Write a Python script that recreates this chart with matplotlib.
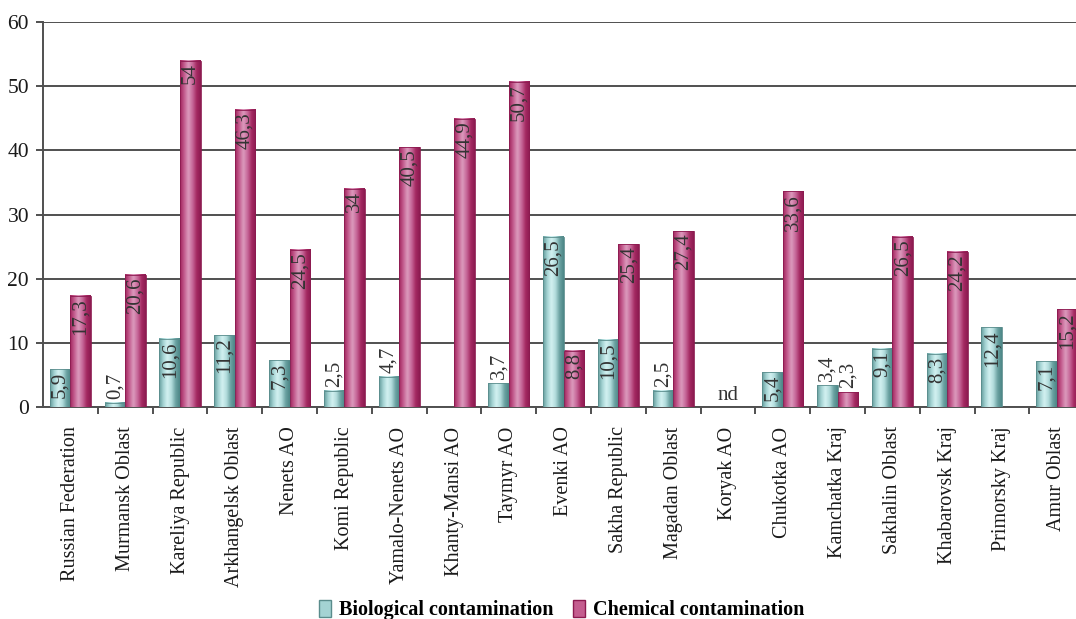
import numpy as np
import matplotlib
matplotlib.use("Agg")
import matplotlib.pyplot as plt
from matplotlib.colors import LinearSegmentedColormap
from matplotlib.patches import Patch

plt.rcParams['font.family'] = ['Liberation Serif', 'DejaVu Serif']

regions = ["Russian Federation", "Murmansk Oblast", "Kareliya Republic", "Arkhangelsk Oblast",
           "Nenets AO", "Komi Republic", "Yamalo-Nenets AO", "Khanty-Mansi AO", "Taymyr AO",
           "Evenki AO", "Sakha Republic", "Magadan Oblast", "Koryak AO", "Chukotka AO",
           "Kamchatka Kraj", "Sakhalin Oblast", "Khabarovsk Kraj", "Primorsky Kraj", "Amur Oblast"]
biological = [5.9, 0.7, 10.6, 11.2, 7.3, 2.5, 4.7, None, 3.7, 26.5, 10.5, 2.5, None, 5.4,
              3.4, 9.1, 8.3, 12.4, 7.1]
chemical = [17.3, 20.6, 54, 46.3, 24.5, 34, 40.5, 44.9, 50.7, 8.8, 25.4, 27.4, None, 33.6,
            2.3, 26.5, 24.2, None, 15.2]
no_data = ["Koryak AO"]

teal_cmap = LinearSegmentedColormap.from_list(
    "teal", ["#649c9c", "#a4d3d3", "#d3f1f1", "#b2dcdc", "#6ba2a2", "#4c8686"])
pink_cmap = LinearSegmentedColormap.from_list(
    "pink", ["#a0245c", "#c45d8f", "#dc9bbd", "#c7699a", "#a52a62", "#8c1a50"])
grad = np.linspace(0, 1, 64).reshape(1, -1)

fig = plt.figure(figsize=(10.76, 6.19), dpi=100)
ax = fig.add_axes([43 / 1076, 1 - 407 / 619, 1 - 43 / 1076, (407 - 22) / 619])

width = 0.375
x = np.arange(len(regions))


def draw_bars(values, offset, cmap, edge):
    for i, v in enumerate(values):
        if v is None:
            continue
        x0 = x[i] + offset
        ax.imshow(grad, extent=(x0, x0 + width, 0, v), aspect='auto', cmap=cmap,
                  interpolation='bicubic', zorder=3)
        ax.bar(x0, v, width, align='edge', facecolor='none', edgecolor=edge,
               linewidth=0.6, zorder=4)
        label = f"{v:g}".replace(".", ",")
        if v > 5:
            ax.text(x0 + width / 2, v - 0.4, label, rotation=90, ha='center', va='top',
                    fontsize=15, color='#333333', zorder=5)
        else:
            ax.text(x0 + width / 2, v + 0.6, label, rotation=90, ha='center', va='bottom',
                    fontsize=15, color='#333333', zorder=5)


draw_bars(biological, -width, teal_cmap, '#5a8c8c')
draw_bars(chemical, 0, pink_cmap, '#8c1a50')

for name in no_data:
    ax.text(regions.index(name), 1.8, "nd", ha='center', va='center', fontsize=15,
            color='#333333')

ax.set_xlim(-0.5, -0.5 + (1076 - 43) / 54.8)
ax.set_ylim(0, 60)
ax.set_yticks(range(0, 61, 10))
ax.grid(axis='y', color='#505050', linewidth=1.4, zorder=1)
ax.set_axisbelow(True)

ax.set_xticks(x)
ax.set_xticklabels(regions, rotation=90, fontsize=14.5, color='#1a1a1a')
ax.set_xticks(np.arange(0.5, len(regions) - 1, 1), minor=True)
ax.tick_params(axis='x', which='major', length=0, pad=14)
ax.tick_params(axis='x', which='minor', length=5, width=1.4, color='#505050', direction='out')
ax.tick_params(axis='y', length=5, width=1.4, color='#505050', labelsize=15.5, pad=5,
               labelcolor='#1a1a1a')

for s in ['top', 'right']:
    ax.spines[s].set_visible(False)
for s in ['left', 'bottom']:
    ax.spines[s].set_color('#505050')
    ax.spines[s].set_linewidth(1.4)

handles = [Patch(facecolor='#a4d3d3', edgecolor='#5a8c8c', label='Biological contamination'),
           Patch(facecolor='#c45d8f', edgecolor='#8c1a50', label='Chemical contamination')]
fig.legend(handles=handles, loc='center', bbox_to_anchor=(0.522, 0.014), ncol=2,
           frameon=False, prop={'weight': 'bold', 'size': 14.5}, handlelength=0.6,
           handleheight=0.9, handletextpad=0.4, columnspacing=1.0, borderpad=0.1)

fig.savefig("out.png", dpi=100)
